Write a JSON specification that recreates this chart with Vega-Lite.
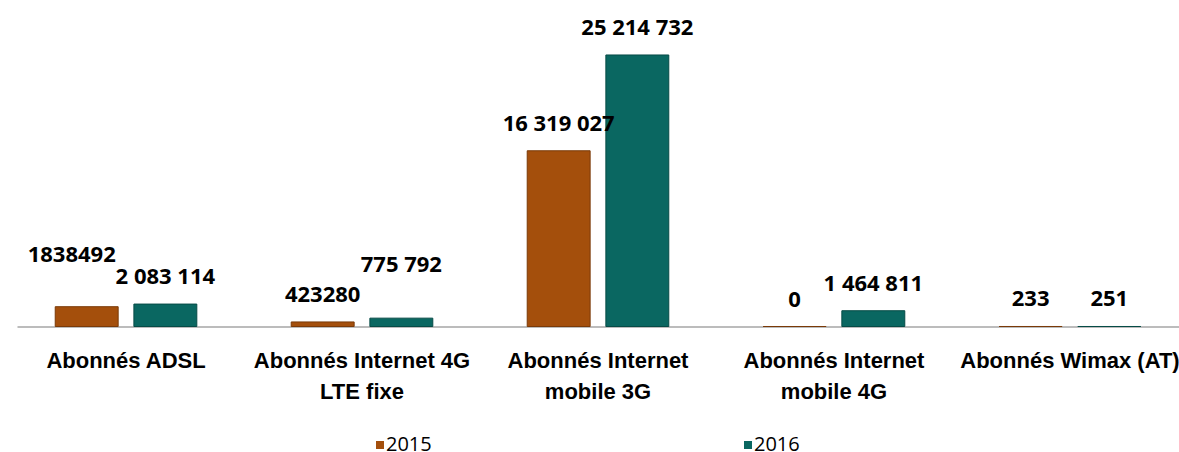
{
  "$schema": "https://vega.github.io/schema/vega-lite/v6.json",
  "width": 1162,
  "height": 326.5,
  "autosize": {"type": "none"},
  "padding": {"left": 17, "top": 0, "right": 0, "bottom": 125.5},
  "background": "white",
  "config": {"view": {"stroke": null}},
  "data": {
    "values": [
      {"category": "Abonnés ADSL", "year": "2015", "value": 1838492, "label": "1838492"},
      {"category": "Abonnés ADSL", "year": "2016", "value": 2083114, "label": "2 083 114"},
      {"category": "Abonnés Internet 4G|LTE fixe", "year": "2015", "value": 423280, "label": "423280"},
      {"category": "Abonnés Internet 4G|LTE fixe", "year": "2016", "value": 775792, "label": "775 792"},
      {"category": "Abonnés Internet|mobile 3G", "year": "2015", "value": 16319027, "label": "16 319 027"},
      {"category": "Abonnés Internet|mobile 3G", "year": "2016", "value": 25214732, "label": "25 214 732"},
      {"category": "Abonnés Internet|mobile 4G", "year": "2015", "value": 0, "label": "0"},
      {"category": "Abonnés Internet|mobile 4G", "year": "2016", "value": 1464811, "label": "1 464 811"},
      {"category": "Abonnés Wimax (AT)", "year": "2015", "value": 233, "label": "233"},
      {"category": "Abonnés Wimax (AT)", "year": "2016", "value": 251, "label": "251"}
    ]
  },
  "encoding": {
    "x": {
      "field": "category",
      "type": "nominal",
      "sort": null,
      "scale": {"paddingInner": 0.4, "paddingOuter": 0.162},
      "axis": {
        "title": null,
        "labelAngle": 0,
        "labelExpr": "split(datum.label, '|')",
        "labelFont": "Liberation Sans",
        "labelFontWeight": "bold",
        "labelFontSize": 22,
        "labelLineHeight": 31,
        "labelColor": "#000000",
        "labelPadding": 24,
        "labelLimit": 0,
        "labelOverlap": false,
        "ticks": false,
        "domainColor": "#A6A6A6",
        "domainWidth": 1.5
      }
    },
    "xOffset": {
      "field": "year",
      "type": "nominal",
      "scale": {"paddingInner": 0.2, "paddingOuter": 0}
    },
    "y": {
      "field": "value",
      "type": "quantitative",
      "scale": {"domain": [0, 30320000], "nice": false},
      "axis": null
    }
  },
  "layer": [
    {
      "mark": {"type": "bar", "strokeWidth": 1},
      "encoding": {
        "color": {
          "field": "year",
          "type": "nominal",
          "scale": {"domain": ["2015", "2016"], "range": ["#A44F0C", "#0A6761"]},
          "legend": {
            "title": null,
            "orient": "none",
            "direction": "horizontal",
            "legendX": 353,
            "legendY": 435,
            "padding": 0,
            "symbolType": "square",
            "symbolSize": 64,
            "symbolStrokeWidth": 0,
            "labelFont": "Open Sans",
            "labelFontSize": 20,
            "labelColor": "#000000",
            "labelOffset": -4,
            "columnPadding": 306
          }
        },
        "stroke": {
          "field": "year",
          "type": "nominal",
          "scale": {"domain": ["2015", "2016"], "range": ["#7A3A08", "#064B46"]},
          "legend": null
        }
      }
    },
    {
      "transform": [{"filter": "datum.label != '1838492' && datum.label != '775 792'"}],
      "mark": {
        "type": "text",
        "baseline": "alphabetic",
        "align": "center",
        "dy": -20,
        "font": "Open Sans",
        "fontWeight": "bold",
        "fontSize": 22,
        "color": "#000000"
      },
      "encoding": {
        "text": {"field": "label", "type": "nominal"}
      }
    },
    {
      "transform": [{"filter": "datum.label == '1838492'"}],
      "mark": {
        "type": "text",
        "baseline": "alphabetic",
        "align": "center",
        "dy": -45,
        "dx": -15,
        "font": "Open Sans",
        "fontWeight": "bold",
        "fontSize": 22,
        "color": "#000000"
      },
      "encoding": {
        "text": {"field": "label", "type": "nominal"}
      }
    },
    {
      "transform": [{"filter": "datum.label == '775 792'"}],
      "mark": {
        "type": "text",
        "baseline": "alphabetic",
        "align": "center",
        "dy": -46,
        "font": "Open Sans",
        "fontWeight": "bold",
        "fontSize": 22,
        "color": "#000000"
      },
      "encoding": {
        "text": {"field": "label", "type": "nominal"}
      }
    }
  ]
}
